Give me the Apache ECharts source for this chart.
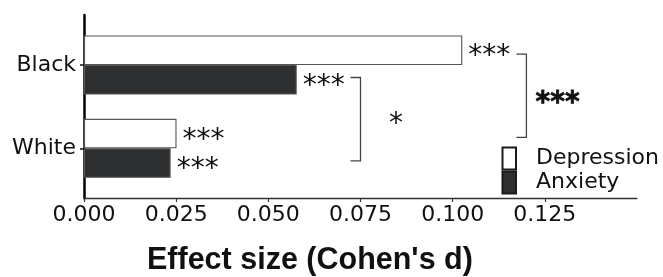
<!DOCTYPE html>
<html><head><meta charset="utf-8">
<script src="https://cdn.jsdelivr.net/npm/echarts@6/dist/echarts.min.js"></script>
<style>html,body{margin:0;padding:0;background:#fff}#c{width:663px;height:277px}</style>
</head><body><div id="c"></div>
<script>
// ---- data ----
const categories = ['Black', 'White'];
const depression = [0.1026, 0.0251];
const anxiety = [0.0577, 0.0235];
const depressionSig = ['***', '***'];
const anxietySig = ['***', '***'];
const xTicks = [0, 0.025, 0.05, 0.075, 0.1, 0.125];
const xMin = 0, xMax = 0.15;
// group comparisons (Black vs White) for each measure
const compareSeries = ['Anxiety', 'Depression'];
const compareSig = ['*', '***'];

// ---- annotation layout (not data) ----
const bracketLayout = [
  { x: 0.075, arm: 0.0027, frac: 0.15, textX: 0.0846, textFrac: 0.635, align: 'center', weight: 'normal' },
  { x: 0.120, arm: 0.0027, frac: -0.13, textX: 0.1225, textFrac: 0.38, align: 'left', weight: 'bold' }
];
const starFont = 28;
const starShift = 6.8;

const chart = echarts.init(document.getElementById('c'), null, { renderer: 'canvas' });
const font = 'DejaVu Sans';

const barLabel = (sig) => ({
  show: true, position: 'right', distance: 6,
  formatter: p => sig[p.dataIndex],
  fontSize: starFont, fontFamily: font, color: '#111',
  offset: [0, starShift]
});

chart.setOption({
  animation: false,
  backgroundColor: '#fff',
  title: {
    text: "Effect size (Cohen's d)", left: 147, top: 245, padding: 0,
    textStyle: { fontFamily: 'Liberation Sans', fontWeight: 'bold', fontSize: 30.5, color: '#111' }
  },
  legend: {
    orient: 'vertical', left: 501.5, top: 146.5, padding: 0,
    itemWidth: 13.5, itemHeight: 22, itemGap: 0, icon: 'rect',
    textStyle: { fontFamily: font, fontSize: 22, color: '#111', padding: [0, 0, 0, 15] },
    data: [
      { name: 'Depression', itemStyle: { borderWidth: 2, borderColor: '#1a1a1a' } },
      { name: 'Anxiety', itemStyle: { borderWidth: 2, borderColor: '#1a1a1a' } }
    ]
  },
  grid: [
    { left: 84, right: 26, top: 23.35, height: 166.6, containLabel: false },
    { left: 84, right: 26, top: 15, bottom: 78.7, containLabel: false }
  ],
  xAxis: [
    {
      gridIndex: 0, type: 'value', min: xMin, max: xMax, interval: 0.025, offset: 8.5,
      axisLine: { show: true, lineStyle: { color: '#333', width: 1.3 } },
      axisTick: { show: true, customValues: xTicks, length: 3.5, lineStyle: { color: '#333', width: 1.2 } },
      axisLabel: { customValues: xTicks, formatter: v => v.toFixed(3), fontFamily: font, fontSize: 22, color: '#111', margin: 6 },
      splitLine: { show: false }
    },
    { gridIndex: 1, type: 'value', min: 0, max: 1, show: false }
  ],
  yAxis: [
    {
      gridIndex: 0, type: 'category', data: categories, inverse: true,
      axisLine: { show: false },
      axisTick: { show: true, alignWithLabel: true, length: 4, lineStyle: { color: '#111', width: 1.5 } },
      axisLabel: { fontFamily: font, fontSize: 22, color: '#111', margin: 8 },
      splitLine: { show: false }
    },
    {
      gridIndex: 1, type: 'value', min: 0, max: 1,
      axisLine: { show: true, lineStyle: { color: '#000', width: 2.5 } },
      axisTick: { show: false }, axisLabel: { show: false }, splitLine: { show: false }
    }
  ],
  series: [
    {
      name: 'Depression', type: 'bar', xAxisIndex: 0, yAxisIndex: 0,
      data: depression, barWidth: 29.5, barGap: '0%',
      itemStyle: { color: '#ffffff', borderColor: '#555', borderWidth: 1.1 },
      label: barLabel(depressionSig)
    },
    {
      name: 'Anxiety', type: 'bar', xAxisIndex: 0, yAxisIndex: 0,
      data: anxiety, barWidth: 29.5, barGap: '0%',
      itemStyle: { color: '#2d2f31', borderColor: '#555', borderWidth: 1.1 },
      label: barLabel(anxietySig)
    },
    {
      name: 'comparisons', type: 'custom', xAxisIndex: 0, yAxisIndex: 0,
      silent: true, clip: false,
      encode: { x: 0, y: 1 },
      data: compareSeries.map((s, i) => [bracketLayout[i].x, 0, 1]),
      renderItem: (params, api) => {
        const i = params.dataIndex;
        const L = bracketLayout[i];
        const band = Math.abs(api.size([0, 1])[1]);
        const xv = api.value(0);
        const x = api.coord([xv, 0])[0];
        const xa = api.coord([xv - L.arm, 0])[0];
        const yA = api.coord([xv, api.value(1)])[1] + L.frac * band;
        const yB = api.coord([xv, api.value(2)])[1] + L.frac * band;
        const tx = api.coord([L.textX, 0])[0];
        const ty = api.coord([xv, api.value(1)])[1] + L.textFrac * band + starShift;
        return {
          type: 'group',
          children: [
            { type: 'polyline', shape: { points: [[xa, yA], [x, yA], [x, yB], [xa, yB]] },
              style: { stroke: '#444', lineWidth: 1.3, fill: null } },
            { type: 'text', x: tx, y: ty,
              style: { text: compareSig[i], fontFamily: font, fontSize: starFont, fontWeight: L.weight,
                       fill: '#111', align: L.align, verticalAlign: 'middle',
                       stroke: L.weight === 'bold' ? '#111' : null, lineWidth: L.weight === 'bold' ? 0.8 : 0 } }
          ]
        };
      }
    }
  ]
});
</script>
</body></html>
